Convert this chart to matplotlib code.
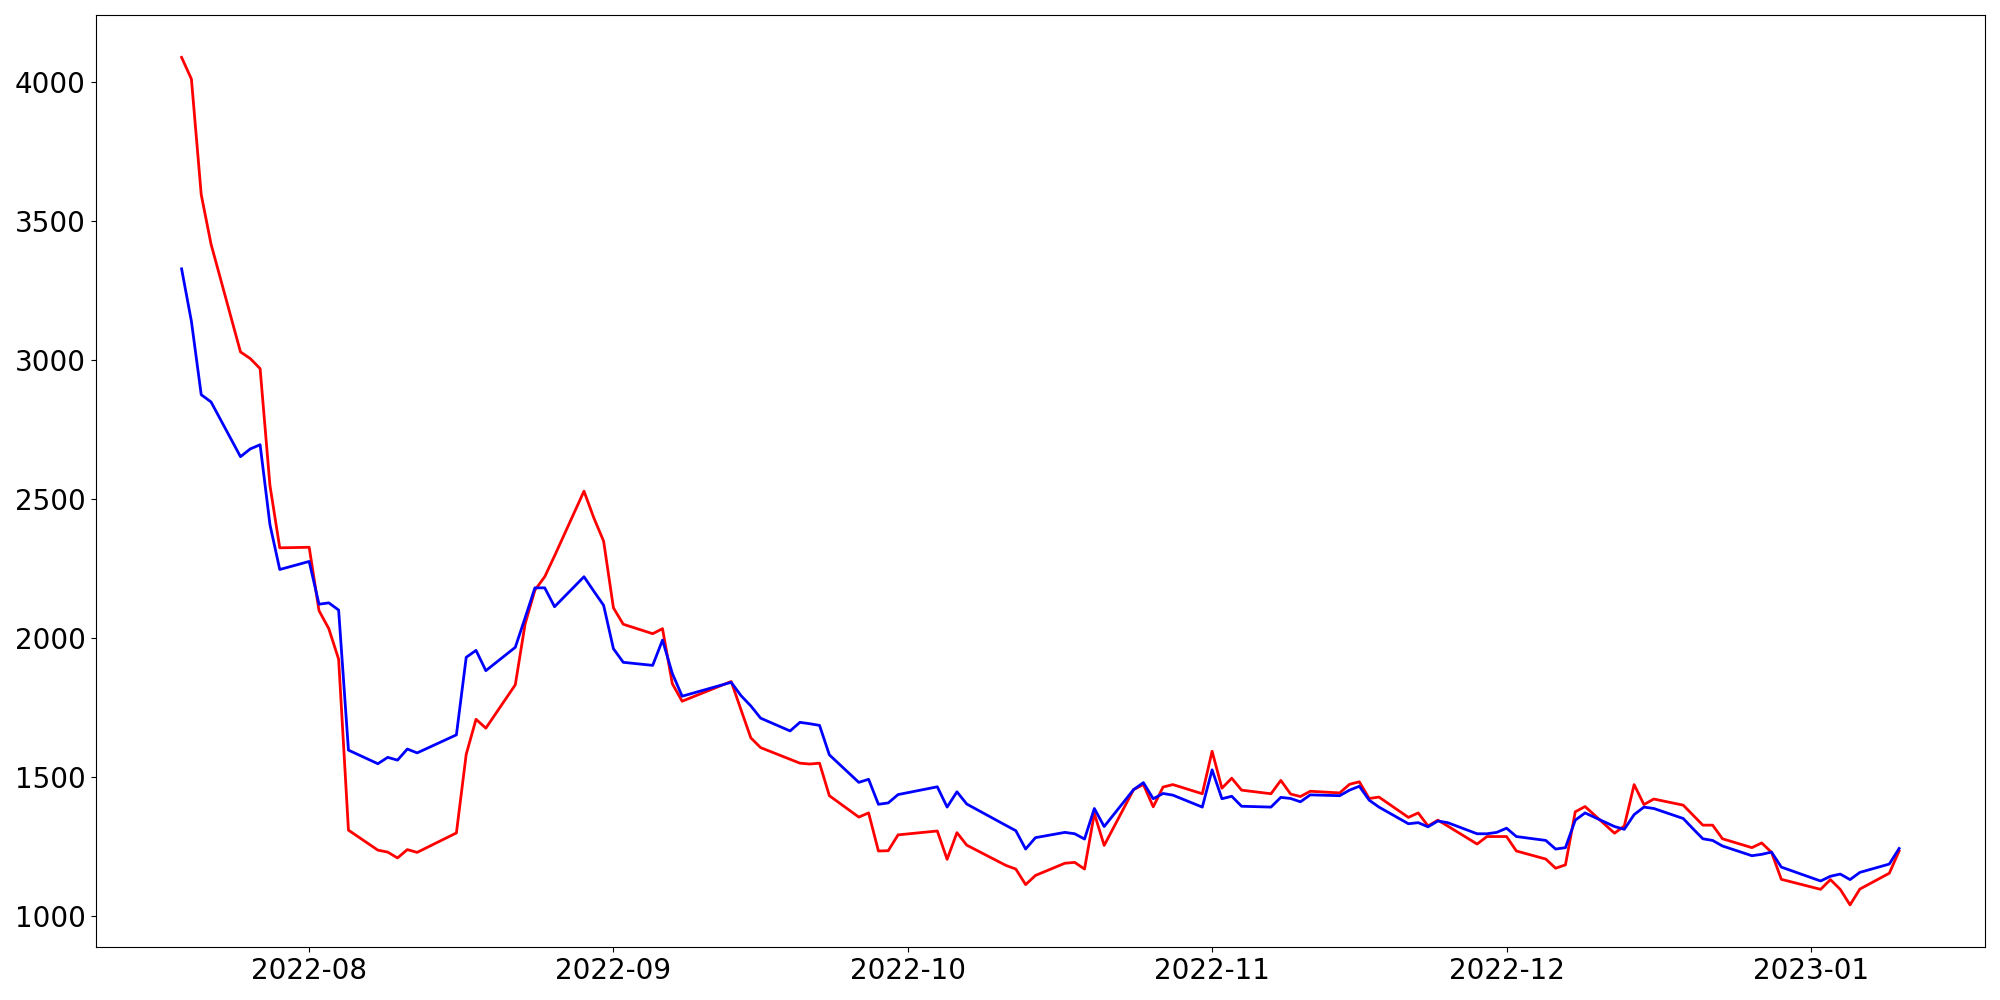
import pandas as pd
import matplotlib
matplotlib.use("Agg")
import matplotlib.pyplot as plt
import matplotlib.dates as mdates

# trading days (weekends and holidays skipped)
dates = [
    "2022-07-19", "2022-07-20", "2022-07-21", "2022-07-22", "2022-07-25", "2022-07-26", "2022-07-27", "2022-07-28", "2022-07-29",
    "2022-08-01", "2022-08-02", "2022-08-03", "2022-08-04", "2022-08-05", "2022-08-08", "2022-08-09", "2022-08-10", "2022-08-11",
    "2022-08-12", "2022-08-16", "2022-08-17", "2022-08-18", "2022-08-19", "2022-08-22", "2022-08-23", "2022-08-24", "2022-08-25",
    "2022-08-26", "2022-08-29", "2022-08-30", "2022-08-31",
    "2022-09-01", "2022-09-02", "2022-09-05", "2022-09-06", "2022-09-07", "2022-09-08", "2022-09-13", "2022-09-14", "2022-09-15",
    "2022-09-16", "2022-09-19", "2022-09-20", "2022-09-21", "2022-09-22", "2022-09-23", "2022-09-26", "2022-09-27", "2022-09-28",
    "2022-09-29", "2022-09-30",
    "2022-10-04", "2022-10-05", "2022-10-06", "2022-10-07", "2022-10-11", "2022-10-12", "2022-10-13", "2022-10-14", "2022-10-17",
    "2022-10-18", "2022-10-19", "2022-10-20", "2022-10-21", "2022-10-24", "2022-10-25", "2022-10-26", "2022-10-27", "2022-10-28",
    "2022-10-31",
    "2022-11-01", "2022-11-02", "2022-11-03", "2022-11-04", "2022-11-07", "2022-11-08", "2022-11-09", "2022-11-10", "2022-11-11",
    "2022-11-14", "2022-11-15", "2022-11-16", "2022-11-17", "2022-11-18", "2022-11-21", "2022-11-22", "2022-11-23", "2022-11-24",
    "2022-11-25", "2022-11-28", "2022-11-29", "2022-11-30",
    "2022-12-01", "2022-12-02", "2022-12-05", "2022-12-06", "2022-12-07", "2022-12-08", "2022-12-09", "2022-12-12", "2022-12-13",
    "2022-12-14", "2022-12-15", "2022-12-16", "2022-12-19", "2022-12-20", "2022-12-21", "2022-12-22", "2022-12-23", "2022-12-26",
    "2022-12-27", "2022-12-28", "2022-12-29",
    "2023-01-02", "2023-01-03", "2023-01-04", "2023-01-05", "2023-01-06", "2023-01-09", "2023-01-10",
]

red_vals = [
    4089, 4011, 3595, 3417, 3029, 3005, 2969, 2549, 2324,
    2326, 2098, 2033, 1923, 1308, 1236, 1229, 1208, 1238, 1228, 1298, 1581, 1707, 1675, 1831, 2050, 2172, 2220, 2295, 2528, 2432, 2348,
    2108, 2049, 2015, 2033, 1835, 1772, 1843, 1741, 1640, 1605, 1563, 1549, 1546, 1549, 1432, 1355, 1370, 1233, 1234, 1291,
    1305, 1203, 1299, 1254, 1181, 1168, 1112, 1145, 1189, 1192, 1168, 1368, 1253, 1454, 1472, 1392, 1463, 1472, 1439,
    1592, 1459, 1495, 1452, 1439, 1487, 1438, 1429, 1448, 1442, 1473, 1482, 1422, 1427, 1354, 1370, 1323, 1344, 1323, 1258, 1285, 1285,
    1285, 1233, 1204, 1171, 1183, 1374, 1393, 1297, 1323, 1472, 1400, 1420, 1398, 1362, 1326, 1326, 1277, 1245, 1262, 1228, 1131,
    1095, 1130, 1095, 1039, 1096, 1153, 1233,
]

blue_vals = [
    3328, 3139, 2875, 2849, 2652, 2680, 2695, 2408, 2246,
    2275, 2121, 2126, 2100, 1596, 1547, 1570, 1560, 1600, 1586, 1651, 1930, 1955, 1882, 1966, 2072, 2180, 2180, 2112, 2220, 2168, 2117,
    1961, 1912, 1901, 1992, 1872, 1790, 1840, 1792, 1755, 1711, 1665, 1696, 1691, 1685, 1579, 1480, 1491, 1401, 1406, 1436,
    1464, 1391, 1446, 1402, 1325, 1306, 1240, 1281, 1300, 1295, 1276, 1386, 1321, 1454, 1479, 1421, 1440, 1434, 1391,
    1525, 1421, 1430, 1394, 1391, 1426, 1422, 1410, 1435, 1432, 1452, 1466, 1416, 1391, 1331, 1335, 1320, 1341, 1335, 1295, 1295, 1300,
    1315, 1285, 1271, 1240, 1245, 1344, 1370, 1321, 1311, 1364, 1391, 1386, 1350, 1313, 1277, 1271, 1251, 1216, 1221, 1229, 1175,
    1125, 1142, 1150, 1130, 1156, 1186, 1242,
]


def main():
    x = pd.to_datetime(dates)

    fig, ax = plt.subplots(figsize=(20, 10), dpi=100)
    ax.plot(x, red_vals, color="red", linewidth=2)
    ax.plot(x, blue_vals, color="blue", linewidth=2)

    ax.xaxis.set_major_locator(mdates.MonthLocator())
    ax.xaxis.set_major_formatter(mdates.DateFormatter("%Y-%m"))
    ax.tick_params(axis="both", labelsize=20)

    plt.tight_layout()
    plt.savefig("out.png")


if __name__ == "__main__":
    main()
